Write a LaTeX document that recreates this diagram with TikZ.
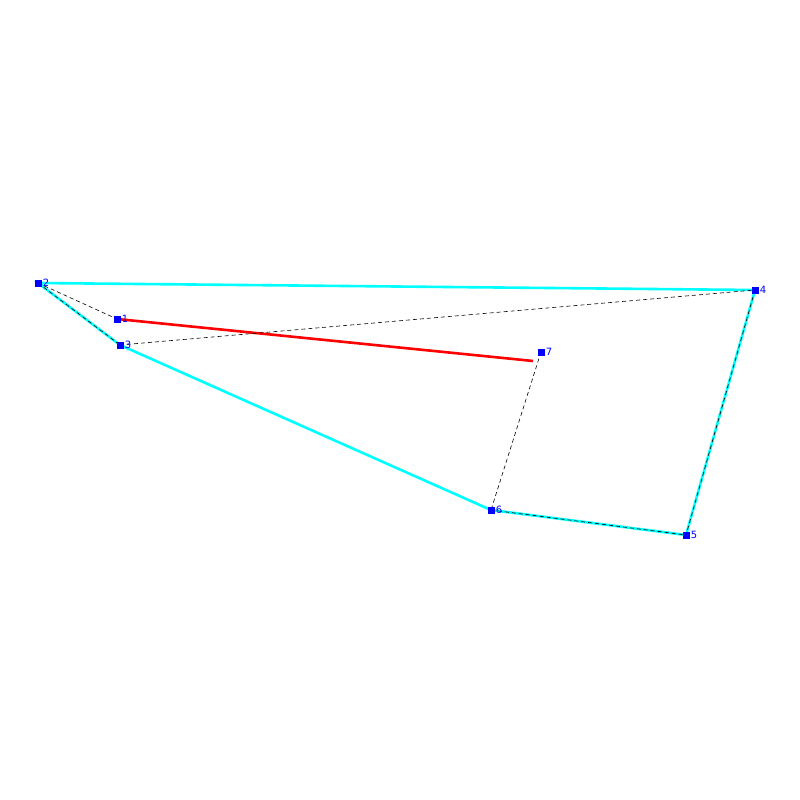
\documentclass[tikz,border=0pt]{standalone}
\usepackage{fontspec}
\setmainfont{DejaVu Sans}
\definecolor{hullcyan}{RGB}{0,255,255}
\definecolor{vblue}{RGB}{0,0,255}
\definecolor{edgered}{RGB}{255,0,0}
\tikzset{
	vert/.style={fill=vblue, draw=none, rectangle, minimum size=7pt, inner sep=0pt},
	vlabel/.style={vblue, font=\fontsize{10}{10}\selectfont, inner sep=1pt},
	hull/.style={hullcyan, line width=2.6pt},
	guide/.style={black, line width=0.6pt, dash pattern=on 4pt off 3pt}
}
\begin{document}
\begin{tikzpicture}[x=1pt, y=-1pt]
		\useasboundingbox (0,0) rectangle (800,800);
		\fill[white] (0,0) rectangle (800,800);

		\coordinate (p1) at (117,319);
		\coordinate (p2) at (38,283);
		\coordinate (p3) at (120,345);
		\coordinate (p4) at (755,290);
		\coordinate (p5) at (686,535);
		\coordinate (p6) at (491,510);
		\coordinate (p7) at (541,352);
		\coordinate (redend) at (533,361);

		\draw[hull] (p2) -- (p4) -- (p5) -- (p6) -- (p3) -- cycle;
		\draw[edgered, line width=2.6pt] (p1) -- (redend);

		\draw[guide] (p2) -- (p1);
		\draw[guide] (p2) -- (p3);
		\draw[guide] (p3) -- (p4);
		\draw[guide] (p4) -- (p5);
		\draw[guide] (p6) -- (p5);
		\draw[guide] (p7) -- (p6);

		\node[vert, label={[vlabel]right:1}] (n1) at (p1){};
		\node[vert, label={[vlabel]right:2}] (n2) at (p2){};
		\node[vert, label={[vlabel]right:3}] (n3) at (p3){};
		\node[vert, label={[vlabel]right:4}] (n4) at (p4){};
		\node[vert, label={[vlabel]right:5}] (n5) at (p5){};
		\node[vert, label={[vlabel]right:6}] (n6) at (p6){};
		\node[vert, label={[vlabel]right:7}] (n7) at (p7){};
	\end{tikzpicture}
\end{document}
